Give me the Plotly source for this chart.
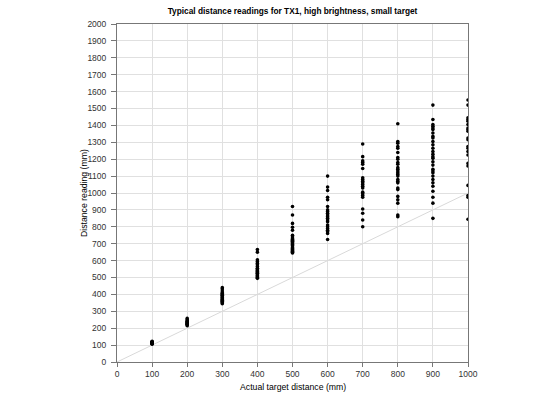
import plotly.graph_objects as go

targets = [100, 200, 300, 400, 500, 600, 700, 800, 900, 1000]

d100 = [105, 108, 110, 112, 114, 115, 117, 118, 120, 122]
d200 = [215, 220, 223, 226, 230, 233, 236, 240, 244, 250, 258]
d300 = [345, 350, 355, 360, 365, 370, 375, 380, 385, 390, 395, 400, 405, 410, 420, 432, 440]
d400 = [495, 500, 505, 510, 515, 520, 525, 530, 535, 540, 545, 550, 555, 565, 575, 585, 595, 605, 650, 665]
d500 = [645, 650, 655, 660, 665, 670, 675, 680, 690, 695, 700, 705, 710, 715, 720, 725, 730, 740, 750, 780, 797, 820, 870, 920]
d600 = [725, 760, 770, 780, 790, 800, 810, 830, 840, 850, 860, 870, 880, 890, 900, 920, 960, 975, 1015, 1035, 1100]
d700 = [800, 840, 880, 905, 975, 985, 995, 1005, 1030, 1040, 1050, 1060, 1070, 1080, 1090, 1145, 1170, 1180, 1190, 1215, 1290]
d800 = [860, 870, 940, 960, 980, 1020, 1030, 1060, 1070, 1080, 1100, 1110, 1120, 1130, 1140, 1150, 1170, 1180, 1200, 1210, 1240, 1265, 1275, 1295, 1305, 1410]
d900 = [850, 940, 975, 1010, 1040, 1060, 1080, 1100, 1120, 1130, 1140, 1165, 1185, 1205, 1215, 1230, 1245, 1265, 1285, 1305, 1325, 1335, 1355, 1375, 1385, 1395, 1405, 1435, 1520]
d1000 = [845, 975, 985, 1045, 1160, 1175, 1225, 1245, 1265, 1275, 1315, 1325, 1365, 1375, 1385, 1405, 1425, 1435, 1445, 1520, 1550]

readings = [d100, d200, d300, d400, d500, d600, d700, d800, d900, d1000]

ideal_x = [0, 1000]
ideal_y = [0, 1000]

xs, ys = [], []
for t, vals in zip(targets, readings):
    xs += [t] * len(vals)
    ys += vals

fig = go.Figure()
fig.add_trace(go.Scatter(x=ideal_x, y=ideal_y, mode="lines",
                         line=dict(color="#d9d9d9", width=1), hoverinfo="skip",
                         showlegend=False))
fig.add_trace(go.Scatter(x=xs, y=ys, mode="markers",
                         marker=dict(color="black", size=3.6, line=dict(width=0)),
                         showlegend=False))

W, H = 560, 400
fig.update_layout(
    width=W, height=H,
    margin=dict(l=117, r=92, t=24, b=38, autoexpand=False),
    paper_bgcolor="white", plot_bgcolor="white",
    font=dict(family="Liberation Sans, Arial, sans-serif", size=8.5, color="#333"),
    title=dict(text="<b>Typical distance readings for TX1, high brightness, small target</b>",
               x=292.5 / W, xanchor="center", y=1 - 11 / H, yanchor="middle",
               yref="container", automargin=False, font=dict(size=8.3, color="#000")),
    annotations=[
        dict(text="Actual target distance (mm)", xref="paper", yref="paper",
             x=0.5, y=1 - (387 - 24) / 338, xanchor="center", yanchor="middle",
             showarrow=False, font=dict(size=8.7, color="#000")),
        dict(text="Distance reading (mm)", xref="paper", yref="paper",
             x=(84 - 117) / 351, y=0.5, xanchor="center", yanchor="middle",
             textangle=-90, showarrow=False, font=dict(size=8.7, color="#000")),
    ],
)
fig.update_xaxes(range=[0, 1000], dtick=100, tick0=0, showgrid=True, gridcolor="#e0e0e0",
                 gridwidth=1, showline=True, linecolor="#777", linewidth=1, mirror=True,
                 ticks="outside", ticklen=4, tickcolor="#777", zeroline=False,
                 ticklabelstandoff=0, automargin=False)
fig.update_yaxes(range=[0, 2000], dtick=100, tick0=0, showgrid=True, gridcolor="#e0e0e0",
                 gridwidth=1, showline=True, linecolor="#777", linewidth=1, mirror=True,
                 ticks="outside", ticklen=5, tickcolor="#777", zeroline=False,
                 ticklabelstandoff=3, automargin=False)

fig.write_html("out.html", config={"displayModeBar": False},
               post_script="document.body.style.margin='0';")
